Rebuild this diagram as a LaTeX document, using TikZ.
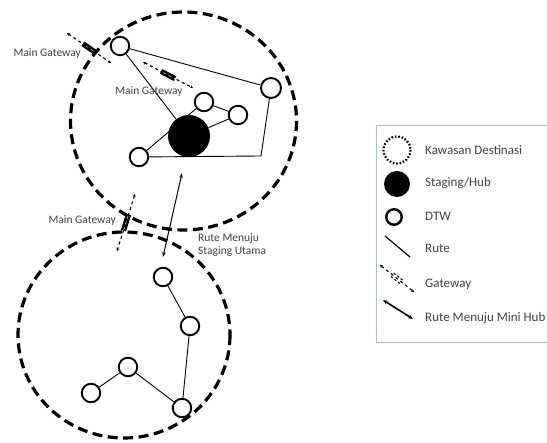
\documentclass[tikz,border=0pt]{standalone}
\usepackage{fontspec}
\setmainfont{Carlito}
\usetikzlibrary{arrows.meta,calc,backgrounds}
\newcommand\gwsym[4][gwbar]{%
  \draw[gwline] (#2) -- (#3);
  \draw[#1] ($(#2)!0.36!(#3)!#4!90:(#3)$) -- ($(#2)!0.64!(#3)!#4!90:(#3)$);
  \draw[#1] ($(#2)!0.36!(#3)!-#4!90:(#3)$) -- ($(#2)!0.64!(#3)!-#4!90:(#3)$);
}
\begin{document}
\begin{tikzpicture}[x=1pt,y=-1pt,
  zone/.style={line width=3.2pt, dash pattern=on 10pt off 5.5pt},
  dtw/.style={circle, draw, line width=1.9pt, fill=white, minimum size=18.5pt, inner sep=0pt},
  hubnode/.style={circle, fill=black, minimum size=42pt, inner sep=0pt},
  rute/.style={line width=0.9pt},
  lbl/.style={font=\fontsize{11.5}{13}\selectfont, text=black!75, inner sep=0pt},
  leg/.style={font=\fontsize{13}{15}\selectfont, text=black!75, anchor=west, inner sep=0pt},
  gwline/.style={line width=1.1pt, dash pattern=on 3pt off 3pt, {Stealth[length=3pt,width=3pt]}-{Stealth[length=3pt,width=3pt]}},
  gwbar/.style={line width=2.3pt},
  gwlegbar/.style={line width=1pt, dash pattern=on 2.5pt off 2pt},
  arr/.style={line width=1pt, {Stealth[length=5pt,width=3.5pt]}-{Stealth[length=5pt,width=3.5pt]}},
]
\useasboundingbox (0,0) rectangle (547,443);

% ---------- zones ----------
\draw[zone] (183.5,121) ellipse [x radius=113, y radius=109];
\draw[zone] (124,335) ellipse [x radius=106, y radius=103];

% ---------- nodes, top zone ----------
\node[dtw] (A) at (120,46) {};
\node[dtw, minimum size=20pt] (B) at (271,88) {};
\node[dtw] (C) at (204,102) {};
\node[dtw] (D) at (238,115) {};
\node[dtw] (E) at (139,157) {};
\node[hubnode] (H) at (189,136) {};
\coordinate (K) at (261,156);

% ---------- nodes, bottom zone ----------
\node[dtw] (F) at (163,277) {};
\node[dtw] (G) at (190,326) {};
\node[dtw] (M) at (182,408) {};
\node[dtw] (I) at (128,367) {};
\node[dtw] (J) at (91,393) {};

% ---------- routes ----------
\begin{pgfonlayer}{background}
\draw[rute] (A) -- (B);
\draw[rute] (A) -- (H);
\draw[rute] (E) -- (C);
\draw[rute] (H) -- (D);
\draw[rute] (D) -- (C);
\draw[rute] (E) -- (K) -- (B);
\draw[rute] (F) -- (G);
\draw[rute] (G) -- (M);
\draw[rute] (M) -- (I);
\draw[rute] (I) -- (J);
\end{pgfonlayer}

% ---------- route to main staging ----------
\coordinate (S1) at (182,173);
\coordinate (S2) at (163,257);
\draw[arr] (S1) -- (S2);
\node[lbl, anchor=north west, align=left] (lblS) at (198,233) {Rute Menuju\\Staging Utama};

% ---------- gateways ----------
\coordinate (g1a) at (67,33);  \coordinate (g1b) at (111,63);
\gwsym{g1a}{g1b}{1.5pt}
\node[lbl, anchor=east] (lg1) at (81,53) {Main Gateway};

\coordinate (g2a) at (143,62); \coordinate (g2b) at (193,88);
\gwsym{g2a}{g2b}{1.5pt}
\node[lbl] (lg2) at (149,91) {Main Gateway};

\coordinate (g3a) at (135,194); \coordinate (g3b) at (117,251);
\gwsym{g3a}{g3b}{1.5pt}
\node[lbl, anchor=east] (lg3) at (116,220) {Main Gateway};

% ---------- legend ----------
\draw[draw={rgb,255:red,170;green,190;blue,215}, line width=1pt] (376,126) rectangle (560,343);
\draw[line width=2.2pt, dash pattern=on 1.6pt off 1.8pt] (397,150) circle [radius=13.5];
\node[leg] (t1) at (425,150) {Kawasan Destinasi};
\node[circle, fill=black, minimum size=26pt, inner sep=0pt] (l2) at (397,184) {};
\node[leg] (t2) at (425,183) {Staging/Hub};
\node[circle, draw, line width=2.4pt, minimum size=15.5pt, inner sep=0pt] (l3) at (394,217) {};
\node[leg] (t3) at (425,216) {DTW};
\coordinate (r1) at (385,236); \coordinate (r2) at (410,257);
\draw[line width=1.2pt] (r1) -- (r2);
\node[leg] (t4) at (425,248) {Rute};
\coordinate (lg1a) at (380,265); \coordinate (lg1b) at (414,292);
\gwsym[gwlegbar]{lg1a}{lg1b}{2.2pt}
\node[leg] (t5) at (425,284) {Gateway};
\coordinate (m1) at (383,300); \coordinate (m2) at (413,319);
\draw[line width=1.6pt, {Stealth[length=5pt,width=4pt]}-{Stealth[length=5pt,width=4pt]}] (m1) -- (m2);
\node[leg] (t6) at (425,318) {Rute Menuju Mini Hub};
\end{tikzpicture}
\end{document}
